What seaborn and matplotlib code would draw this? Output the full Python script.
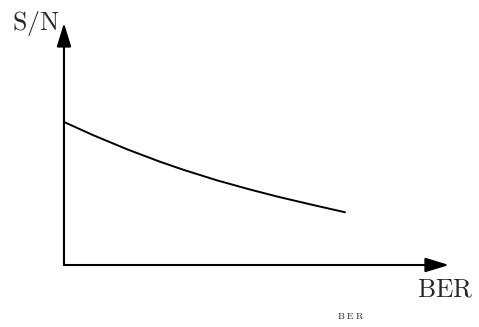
import numpy as np
import pandas as pd
import seaborn as sns
import matplotlib.pyplot as plt

# curve (arbitrary units, axes run 0..10)
ber = [0.0, 0.75, 1.64, 2.49, 3.09, 3.97, 4.83, 5.56, 6.44, 7.30]
snr = [5.91, 5.37, 4.78, 4.27, 3.94, 3.50, 3.12, 2.82, 2.49, 2.18]
axis_len = 10.0

sns.set_style("white")
plt.rcParams['mathtext.fontset'] = 'cm'
plt.rcParams['font.family'] = ['DejaVu Serif']

fig = plt.figure(figsize=(4.79, 3.27), dpi=100)
ax = fig.add_axes([0, 0, 1, 1])

df = pd.DataFrame({'BER': ber, 'SN': snr})
sns.lineplot(data=df, x='BER', y='SN', ax=ax, color='black', lw=1.4)

# axes with arrow heads
arrow = dict(arrowstyle='-|>,head_length=0.72,head_width=0.22', mutation_scale=20,
             lw=1.5, color='black', shrinkA=0, shrinkB=0)
ax.annotate('', xy=(axis_len, 0), xytext=(0, 0), arrowprops=arrow)
ax.annotate('', xy=(0, axis_len), xytext=(0, 0), arrowprops=arrow)

ax.text(0.075, 0.927, r'$\mathrm{S/N}$', transform=ax.transAxes, fontsize=18.5,
        ha='center', va='center')
ax.text(0.929, 0.116, r'$\mathrm{BER}$', transform=ax.transAxes, fontsize=18.5,
        ha='center', va='center')
ax.text(0.733, 0.034, r'$\mathrm{B\;E\;R}$', transform=ax.transAxes, fontsize=7,
        ha='center', va='center')

ax.set_xlim(-1.662, 10.78)
ax.set_ylim(-2.562, 10.95)
ax.axis('off')

fig.savefig('out.png', dpi=100)
